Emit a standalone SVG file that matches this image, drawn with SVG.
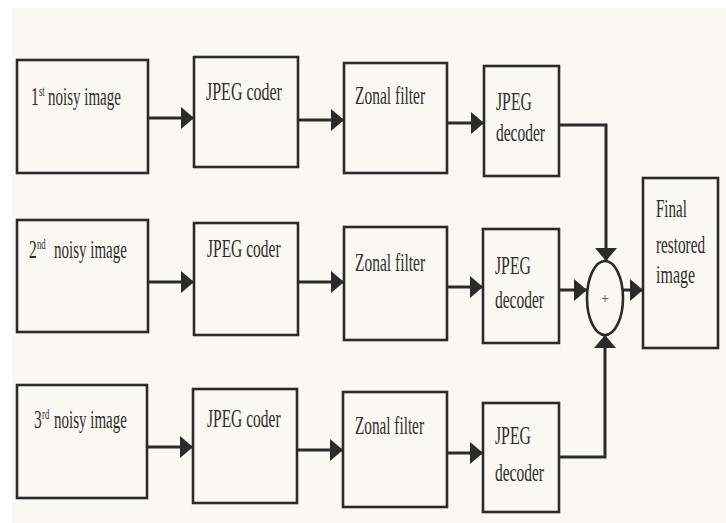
<svg xmlns="http://www.w3.org/2000/svg" width="726" height="523" viewBox="0 0 726 523">
<defs>
<style>
.box{fill:none;stroke:#2b2b2b;stroke-width:2.6}
.ln{fill:none;stroke:#2b2b2b;stroke-width:3}
.t{font-family:"Liberation Serif","Times New Roman",serif;font-size:25px;fill:#2e2e2e}
.s{font-family:"Liberation Serif","Times New Roman",serif;font-size:14px;fill:#2e2e2e}
.p{font-family:"Liberation Serif","Times New Roman",serif;font-size:14px;fill:#444}
</style>
<marker id="ah" viewBox="0 0 13 22" refX="13" refY="11" markerWidth="13" markerHeight="22" markerUnits="userSpaceOnUse" orient="auto">
<path d="M0,0 L13,11 L0,22 Z" fill="#2b2b2b"/>
</marker>
</defs>
<rect x="0" y="0" width="726" height="523" fill="#ffffff"/>
<rect x="12" y="8" width="714" height="515" fill="#faf8f3"/>

<g id="n1a"><rect class="box" x="17" y="60" width="131" height="113"/>
<text class="t" transform="translate(31 105) scale(0.62 1)">1</text>
<text class="s" transform="translate(39 96) scale(0.62 1)">st</text>
<text class="t" transform="translate(48 105) scale(0.6 1)">noisy image</text></g>
<g id="n1b"><rect class="box" x="194" y="57" width="104" height="110"/>
<text class="t" transform="translate(206 100) scale(0.64 1)">JPEG coder</text></g>
<g id="n1c"><rect class="box" x="344" y="63" width="103" height="110"/>
<text class="t" transform="translate(355 104) scale(0.62 1)">Zonal filter</text></g>
<g id="n1d"><rect class="box" x="484" y="66" width="75" height="110"/>
<text class="t" transform="translate(496 110) scale(0.63 1)">JPEG</text>
<text class="t" transform="translate(496 141) scale(0.62 1)">decoder</text></g>

<g id="n2a"><rect class="box" x="17" y="220" width="131" height="112"/>
<text class="t" transform="translate(29 258) scale(0.62 1)">2</text>
<text class="s" transform="translate(37 249) scale(0.62 1)">nd</text>
<text class="t" transform="translate(54 258) scale(0.6 1)">noisy image</text></g>
<g id="n2b"><rect class="box" x="194" y="223" width="104" height="112"/>
<text class="t" transform="translate(207 257) scale(0.62 1)">JPEG coder</text></g>
<g id="n2c"><rect class="box" x="344" y="227" width="103" height="113"/>
<text class="t" transform="translate(355 271) scale(0.62 1)">Zonal filter</text></g>
<g id="n2d"><rect class="box" x="483" y="229" width="76" height="114"/>
<text class="t" transform="translate(495 274) scale(0.63 1)">JPEG</text>
<text class="t" transform="translate(495 308) scale(0.62 1)">decoder</text></g>

<g id="n3a"><rect class="box" x="17" y="385" width="130" height="113"/>
<text class="t" transform="translate(34 428) scale(0.62 1)">3</text>
<text class="s" transform="translate(42 419) scale(0.62 1)">rd</text>
<text class="t" transform="translate(54 428) scale(0.6 1)">noisy image</text></g>
<g id="n3b"><rect class="box" x="193" y="389" width="104" height="114"/>
<text class="t" transform="translate(207 427) scale(0.62 1)">JPEG coder</text></g>
<g id="n3c"><rect class="box" x="343" y="392" width="104" height="115"/>
<text class="t" transform="translate(355 434) scale(0.61 1)">Zonal filter</text></g>
<g id="n3d"><rect class="box" x="483" y="403" width="76" height="109"/>
<text class="t" transform="translate(495 444) scale(0.63 1)">JPEG</text>
<text class="t" transform="translate(495 481) scale(0.62 1)">decoder</text></g>

<g id="sum"><ellipse class="box" cx="605" cy="298" rx="18" ry="37"/>
<text class="p" x="605" y="303" text-anchor="middle">+</text></g>

<g id="final"><rect class="box" x="643" y="178" width="75" height="170"/>
<text class="t" transform="translate(656 217) scale(0.6 1)">Final</text>
<text class="t" transform="translate(656 253) scale(0.61 1)">restored</text>
<text class="t" transform="translate(656 283) scale(0.64 1)">image</text></g>

<g id="connectors">
<line class="ln" x1="148" y1="118" x2="194" y2="118" marker-end="url(#ah)"/>
<line class="ln" x1="298" y1="120" x2="344" y2="120" marker-end="url(#ah)"/>
<line class="ln" x1="447" y1="123" x2="484" y2="123" marker-end="url(#ah)"/>
<line class="ln" x1="148" y1="282" x2="194" y2="282" marker-end="url(#ah)"/>
<line class="ln" x1="298" y1="282" x2="344" y2="282" marker-end="url(#ah)"/>
<line class="ln" x1="447" y1="287" x2="483" y2="287" marker-end="url(#ah)"/>
<line class="ln" x1="147" y1="447" x2="193" y2="447" marker-end="url(#ah)"/>
<line class="ln" x1="297" y1="450" x2="343" y2="450" marker-end="url(#ah)"/>
<line class="ln" x1="447" y1="453" x2="483" y2="453" marker-end="url(#ah)"/>
<polyline class="ln" points="559,125 606,125 606,261" marker-end="url(#ah)"/>
<line class="ln" x1="559" y1="290" x2="587" y2="290" marker-end="url(#ah)"/>
<polyline class="ln" points="559,457 605,457 605,335" marker-end="url(#ah)"/>
<line class="ln" x1="623" y1="290" x2="643" y2="290" marker-end="url(#ah)"/>
</g>
</svg>
